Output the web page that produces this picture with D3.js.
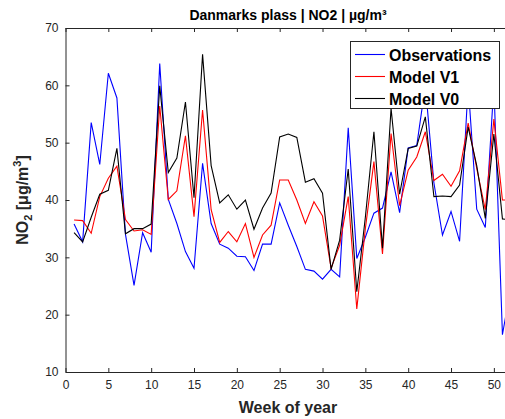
<!DOCTYPE html>
<html lang="en">
<head>
    <meta charset="UTF-8">
    <title>Danmarks plass NO2</title>
    <script src="https://d3js.org/d3.v7.min.js"></script>
    <style>
        body { margin: 0; background: #fff; }
        svg { display: block; font-family: "Liberation Sans", Arial, sans-serif; }
    </style>
</head>
<body>
<svg width="505" height="419"></svg>
<script>
    // weekly values
    const weeks = d3.range(1, 53);
    const observations = [35.8, 32.7, 53.5, 46.2, 62.1, 57.8, 34, 25.1, 34.3, 30.9,
        63.8, 40.1, 35.9, 31.0, 28.1, 46.4, 35.9, 32.3, 31.6, 30.2,
        30.1, 27.7, 32.3, 32.3, 39.5, 35.6, 31.9, 27.9, 27.6, 26.2,
        27.9, 26.6, 52.6, 29.8, 33.5, 37.7, 38.6, 44.9, 37.8, 49.1,
        49.5, 60, 43, 33.9, 38.0, 32.8, 60, 38.4, 35.2, 60,
        16.5, 25];
    const modelV1 = [36.5, 36.4, 34.2, 40.6, 43.8, 45.9, 36.6, 34.6, 34.8, 34,
        56.4, 40.1, 41.6, 51.2, 37.1, 55.7, 38.3, 32.6, 34.5, 32.7,
        35.9, 30.0, 33.9, 35.6, 43.5, 43.5, 40.0, 35.9, 39.7, 37.2,
        28.1, 32.1, 40.6, 21.0, 35, 46.7, 30.6, 51.6, 39, 45.2,
        47.5, 51.9, 43.4, 44.5, 42.4, 45.1, 53.4, 45.5, 38.3, 54.1,
        40.0, 40.0];
    const modelV0 = [34.3, 32.7, 37, 41.0, 41.7, 49.0, 34.1, 35.0, 35.0, 35.8,
        59.9, 44.8, 47.3, 57.1, 40.4, 65.4, 46.0, 39.5, 40.9, 38.4,
        40.0, 34.9, 38.6, 41.2, 51.0, 51.5, 50.9, 43.1, 43.7, 41.2,
        27.9, 33, 45.4, 24.0, 37, 51.9, 31.6, 56, 41, 49.0,
        49.4, 54.5, 40.6, 40.7, 40.6, 42.6, 52.7, 46, 36.8, 51.5,
        36.7, 36.5];
    const seriesNames = ["Observations", "Model V1", "Model V0"];
    const seriesColors = ["#0000ff", "#ff0000", "#000000"];
    const xTicks = d3.range(0, 55, 5);
    const yTicks = d3.range(10, 80, 10);

    const svg = d3.select("svg");
    const m = {left: 65.5, right: 511, top: 28, bottom: 372};
    const axisColor = "#262626";

    const x = d3.scaleLinear().domain([0, 52]).range([m.left, m.right]);
    const y = d3.scaleLinear().domain([10, 70]).range([m.bottom, m.top]);

    svg.append("defs").append("clipPath").attr("id", "plotclip")
        .append("rect").attr("x", m.left).attr("y", m.top)
        .attr("width", m.right - m.left).attr("height", m.bottom - m.top);

    // lines
    const line = d3.line().x((d, i) => x(weeks[i])).y(d => y(d));
    const allSeries = [observations, modelV1, modelV0];
    svg.append("g").attr("clip-path", "url(#plotclip)")
        .selectAll("path").data(allSeries).enter().append("path")
        .attr("d", line)
        .attr("fill", "none")
        .attr("stroke", (d, i) => seriesColors[i])
        .attr("stroke-width", 1.1)
        .attr("stroke-linejoin", "miter");

    // axes
    const xAxis = svg.append("g").attr("transform", `translate(0,${m.bottom})`)
        .call(d3.axisBottom(x).tickValues(xTicks).tickSize(-4).tickPadding(8).tickSizeOuter(0));
    const xTop = svg.append("g").attr("transform", `translate(0,${m.top})`)
        .call(d3.axisTop(x).tickValues(xTicks).tickSize(-4).tickFormat("").tickSizeOuter(0));
    const yAxis = svg.append("g").attr("transform", `translate(${m.left},0)`)
        .call(d3.axisLeft(y).tickValues(yTicks).tickSize(-4).tickPadding(7).tickSizeOuter(0));

    [xAxis, xTop, yAxis].forEach(g => {
        g.selectAll("path, line").attr("stroke", axisColor).attr("stroke-width", 1);
        g.selectAll("text").attr("fill", axisColor)
            .style("font-size", "12px").style("font-family", "Liberation Sans, Arial, sans-serif");
    });

    // title and axis labels
    svg.append("text").attr("x", 288).attr("y", 20).attr("text-anchor", "middle")
        .style("font-size", "14px").style("font-weight", "bold").attr("fill", "#000")
        .text("Danmarks plass | NO2 | µg/m³");

    svg.append("text").attr("x", 288).attr("y", 413).attr("text-anchor", "middle")
        .style("font-size", "16px").style("font-weight", "bold").attr("fill", axisColor)
        .text("Week of year");

    const yl = svg.append("text").attr("transform", "translate(28,200) rotate(-90)")
        .attr("text-anchor", "middle")
        .style("font-size", "16px").style("font-weight", "bold").attr("fill", axisColor);
    yl.append("tspan").text("NO");
    yl.append("tspan").attr("dy", 4).style("font-size", "11px").text("2");
    yl.append("tspan").attr("dy", -4).text(" [μg/m");
    yl.append("tspan").attr("dy", -7).style("font-size", "11px").text("3");
    yl.append("tspan").attr("dy", 7).text("]");

    // legend
    const legend = svg.append("g");
    legend.append("rect").attr("x", 350.5).attr("y", 41.5).attr("width", 149).attr("height", 67)
        .attr("fill", "#fff").attr("stroke", axisColor).attr("stroke-width", 1);
    const items = legend.selectAll("g.item").data(seriesNames).enter().append("g")
        .attr("transform", (d, i) => `translate(0,${54.5 + i * 22})`);
    items.append("line").attr("x1", 355).attr("x2", 385).attr("y1", 0).attr("y2", 0)
        .attr("stroke", (d, i) => seriesColors[i]).attr("stroke-width", 1.1);
    items.append("text").attr("x", 389).attr("y", 6)
        .style("font-size", "16px").style("font-weight", "bold").attr("fill", "#000")
        .text(d => d);
</script>
</body>
</html>
